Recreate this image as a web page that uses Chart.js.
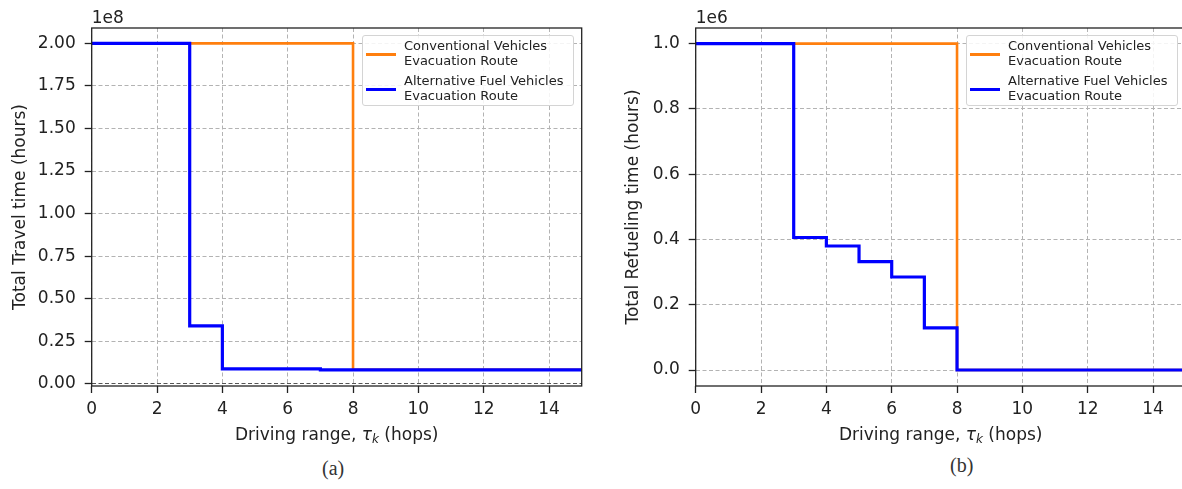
<!DOCTYPE html>
<html>
<head>
<meta charset="utf-8">
<script src="https://cdn.jsdelivr.net/npm/chart.js@4.4.1/dist/chart.umd.min.js"></script>
<style>
  html, body { margin: 0; padding: 0; background: #fff; width: 1182px; height: 489px; overflow: hidden; position: relative; }
  .panel { position: absolute; top: 0; width: 600px; height: 445px; }
  .panel canvas { position: absolute; left: 0; top: 0; }
  .legend { position: absolute; left: 362px; top: 35px; width: 212px; height: 71px; box-sizing: border-box;
            background: rgba(255,255,255,0.85); border: 1px solid #d4d4d4; border-radius: 3px;
            font-family: "DejaVu Sans"; font-size: 13px; line-height: 15px; color: #222; }
  .legend .row { position: absolute; left: 41px; }
  .legend .sw { position: absolute; left: 3px; width: 30px; }
  .caption { position: absolute; font-family: "Liberation Serif"; font-size: 20px; color: #333; }
</style>
</head>
<body>
<div class="panel" style="left:0">
  <canvas id="travel" width="600" height="445"></canvas>
  <div class="legend">
    <div class="sw" style="top:17px;height:3px;background:#ff7f0e"></div>
    <div class="row" style="top:2px">Conventional Vehicles<br>Evacuation Route</div>
    <div class="sw" style="top:52px;height:3px;background:#0000ff"></div>
    <div class="row" style="top:37px">Alternative Fuel Vehicles<br>Evacuation Route</div>
  </div>
</div>
<div class="panel" style="left:604px">
  <canvas id="refuel" width="600" height="445"></canvas>
  <div class="legend">
    <div class="sw" style="top:17px;height:3px;background:#ff7f0e"></div>
    <div class="row" style="top:2px">Conventional Vehicles<br>Evacuation Route</div>
    <div class="sw" style="top:52px;height:3px;background:#0000ff"></div>
    <div class="row" style="top:37px">Alternative Fuel Vehicles<br>Evacuation Route</div>
  </div>
</div>
<div class="caption" style="left:322px;top:457px">(a)</div>
<div class="caption" style="left:950px;top:454px">(b)</div>

<script>
// driving range (hops); each value holds from its hop to the next one
const hops = [0, 1, 2, 3, 4, 5, 6, 7, 8, 9, 10, 11, 12, 13, 14, 15];

const travelConventional = [2.0e8, 2.0e8, 2.0e8, 2.0e8, 2.0e8, 2.0e8, 2.0e8, 2.0e8,
  0.083e8, 0.083e8, 0.083e8, 0.083e8, 0.083e8, 0.083e8, 0.083e8, 0.083e8];
const travelAlternative = [2.0e8, 2.0e8, 2.0e8, 0.341e8, 0.088e8, 0.088e8, 0.088e8, 0.083e8,
  0.083e8, 0.083e8, 0.083e8, 0.083e8, 0.083e8, 0.083e8, 0.083e8, 0.083e8];

const refuelConventional = [1.0e6, 1.0e6, 1.0e6, 1.0e6, 1.0e6, 1.0e6, 1.0e6, 1.0e6,
  0, 0, 0, 0, 0, 0, 0, 0];
const refuelAlternative = [1.0e6, 1.0e6, 1.0e6, 0.406e6, 0.380e6, 0.332e6, 0.285e6, 0.129e6,
  0, 0, 0, 0, 0, 0, 0, 0];

const hopTicks = [0, 2, 4, 6, 8, 10, 12, 14];
const travelTicks = [0, 0.25e8, 0.5e8, 0.75e8, 1.0e8, 1.25e8, 1.5e8, 1.75e8, 2.0e8];
const refuelTicks = [0, 0.2e6, 0.4e6, 0.6e6, 0.8e6, 1.0e6];

const FONT = 'DejaVu Sans';

// matplotlib-like frame, offset text and x label with subscript
const decorations = {
  id: 'decorations',
  afterDraw(chart, args, opts) {
    const { ctx, chartArea: a } = chart;
    ctx.save();
    ctx.strokeStyle = '#222';
    ctx.lineWidth = 1.3;
    ctx.strokeRect(a.left, a.top, a.right - a.left, a.bottom - a.top);

    ctx.fillStyle = '#222';
    ctx.font = '17px "' + FONT + '"';
    ctx.textBaseline = 'alphabetic';
    ctx.textAlign = 'left';
    ctx.fillText(opts.offset, a.left, 23);

    const parts = [
      { t: 'Driving range, ', f: '17px "' + FONT + '"', dy: 0 },
      { t: 'τ', f: 'italic 17px "' + FONT + '"', dy: 0 },
      { t: 'k', f: 'italic 12px "' + FONT + '"', dy: 4 },
      { t: ' (hops)', f: '17px "' + FONT + '"', dy: 0 }
    ];
    let w = 0;
    parts.forEach(p => { ctx.font = p.f; p.w = ctx.measureText(p.t).width; w += p.w; });
    let x = (a.left + a.right) / 2 - w / 2;
    ctx.textBaseline = 'middle';
    parts.forEach(p => { ctx.font = p.f; ctx.fillText(p.t, x, 436 + p.dy); x += p.w; });
    ctx.restore();
  }
};

function makeChart(id, conv, alt, yTicks, yMin, yMax, yTitle, titlePad, offset, fmt, darkZero) {
  return new Chart(document.getElementById(id), {
    type: 'line',
    data: {
      datasets: [
        { label: 'Alternative Fuel Vehicles Evacuation Route',
          data: hops.map((h, i) => ({ x: h, y: alt[i] })),
          borderColor: '#0000ff', borderWidth: 3.2, stepped: 'before', pointRadius: 0, order: 0 },
        { label: 'Conventional Vehicles Evacuation Route',
          data: hops.map((h, i) => ({ x: h, y: conv[i] })),
          borderColor: '#ff7f0e', borderWidth: 2.6, stepped: 'before', pointRadius: 0, order: 1 }
      ]
    },
    options: {
      responsive: false,
      animation: false,
      layout: { padding: { top: 28, right: 18.3, left: 0, bottom: 0 } },
      plugins: { legend: { display: false }, tooltip: { enabled: false }, decorations: { offset } },
      scales: {
        x: {
          type: 'linear', min: 0, max: 15,
          afterBuildTicks: s => { s.ticks = hopTicks.map(v => ({ value: v })); },
          afterFit: s => { s.height = 59; },
          grid: { color: '#b3b3b3', lineWidth: 1, tickLength: 7, tickColor: '#222', tickWidth: 1.3 },
          border: { display: false, dash: [4, 2.5] },
          ticks: { font: { family: FONT, size: 17 }, color: '#222', padding: 6, maxRotation: 0 }
        },
        y: {
          type: 'linear', min: yMin, max: yMax,
          afterBuildTicks: s => { s.ticks = yTicks.map(v => ({ value: v })); },
          afterFit: s => { s.width = 91.7; },
          grid: {
            color: c => (darkZero && c.tick && c.tick.value === 0) ? '#555' : '#b3b3b3',
            lineWidth: 1, tickLength: 7, tickColor: '#222', tickWidth: 1.3
          },
          border: { display: false, dash: [4, 2.5] },
          ticks: { font: { family: FONT, size: 17 }, color: '#222', padding: 9, callback: fmt },
          title: { display: true, text: yTitle, font: { family: FONT, size: 17 }, color: '#222',
                   padding: { top: titlePad, bottom: 0 } }
        }
      }
    },
    plugins: [decorations]
  });
}

makeChart('travel', travelConventional, travelAlternative, travelTicks, -0.012e8, 2.09e8,
  'Total Travel time (hours)', 10, '1e8', v => (v / 1e8).toFixed(2), true);
makeChart('refuel', refuelConventional, refuelAlternative, refuelTicks, -0.049e6, 1.048e6,
  'Total Refueling time (hours)', 19, '1e6', v => (v / 1e6).toFixed(1), false);
</script>
</body>
</html>
